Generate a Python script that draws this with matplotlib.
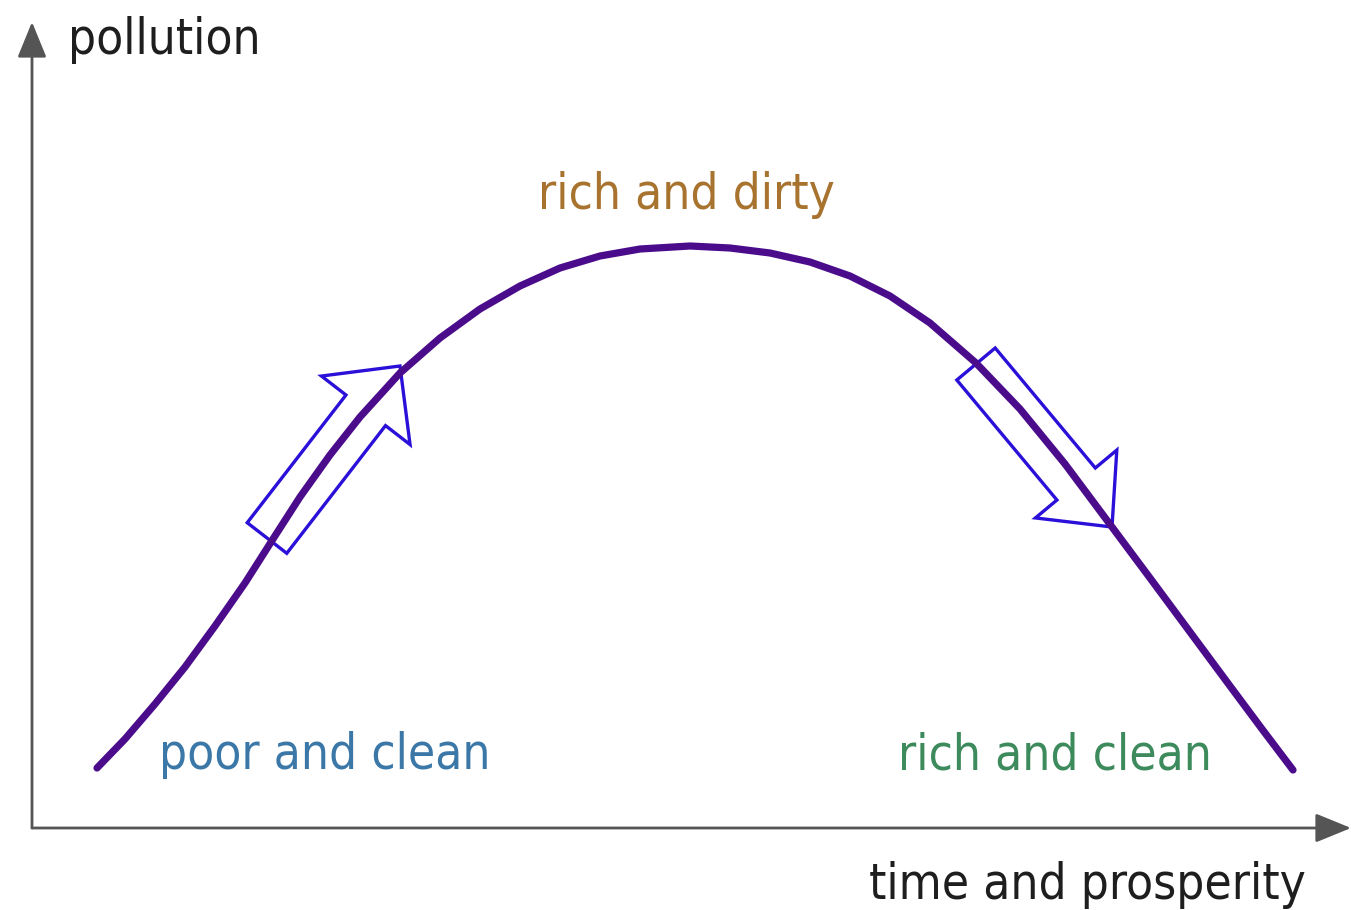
import matplotlib
matplotlib.use("Agg")
import matplotlib.pyplot as plt
from matplotlib.patches import FancyArrow

# curve: prosperity (x) vs pollution (y)
prosperity = [65, 93, 123, 153, 183, 213, 241, 268, 298, 328, 368, 408, 448, 488, 528, 568,
              608, 658, 698, 738, 778, 818, 858, 898, 944, 988, 1033, 1080,
              1118, 1158, 1198, 1230, 1261]
pollution = [60, 89, 124, 161, 202, 245, 289, 331, 373, 411, 455, 490, 519, 542, 560, 572,
             579, 582, 580, 575, 566, 552, 532, 505, 465, 419, 364, 301,
             250, 196, 142, 99, 58]

# direction arrows along the curve (tail, tip)
arrow_tails = [(235, 290), (944, 464)]
arrow_tips = [(368, 462), (1080, 301)]
arrow_head_widths = [112, 106]

labels = ["rich and dirty", "poor and clean", "rich and clean"]
label_pos = [(654, 633), (293, 73), (1023, 73)]
label_colors = ["#a8732e", "#3b78a8", "#3d8a5c"]

LINE = "#4b0c8c"
ARROW = "#2a10d8"
AXIS = "#555555"
TXT = "#1e1e1e"
FONT = dict(family="DejaVu Sans", fontstretch="condensed", fontsize=35.5)

fig = plt.figure(figsize=(13.51, 9.10), dpi=100)
ax = fig.add_axes([0, 0, 1, 1])
ax.set_xlim(-32, 1319)
ax.set_ylim(-82, 828)
ax.axis("off")

# axes with arrow heads
for tip in [(0, 806), (1319, 0)]:
    ax.annotate("", xy=tip, xytext=(0, 0),
                arrowprops=dict(arrowstyle="-|>,head_length=1.1,head_width=0.45",
                                color=AXIS, lw=2, shrinkA=0, shrinkB=0, mutation_scale=20))

# hollow block arrows
for (tx, ty), (hx, hy), hw in zip(arrow_tails, arrow_tips, arrow_head_widths):
    ax.add_patch(FancyArrow(tx, ty, hx - tx, hy - ty, width=50, head_width=hw,
                            head_length=56, length_includes_head=True,
                            facecolor="none", edgecolor=ARROW, lw=2.4, zorder=2))

ax.plot(prosperity, pollution, color=LINE, lw=5.2, solid_capstyle="round",
        solid_joinstyle="round", zorder=3)

for txt, (x, y), c in zip(labels, label_pos, label_colors):
    ax.text(x, y, txt, color=c, ha="center", va="center", **FONT)

ax.text(36, 788, "pollution", color=TXT, ha="left", va="center", **FONT)
ax.text(1087 - 32, -57, "time and prosperity", color=TXT, ha="center", va="center", **FONT)

fig.savefig("out.png", dpi=100, facecolor="white")
